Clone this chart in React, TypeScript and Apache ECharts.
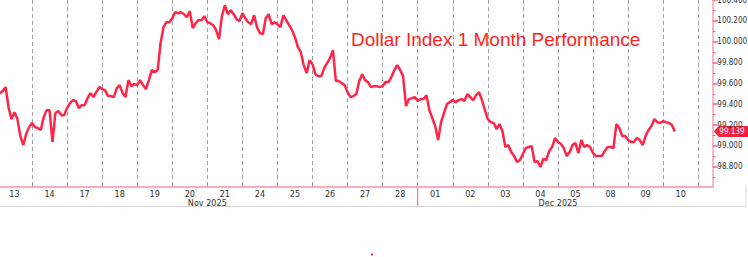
import React, { useEffect, useRef } from 'react';
import * as echarts from 'echarts';

// Trading days shown on the axis (the last one only pads the axis end)
const dayLabels = ['13', '14', '17', '18', '19', '20', '21', '24', '25', '26', '27', '28',
  '01', '02', '03', '04', '05', '08', '09', '10', '11'];
const dayMonths = ['Nov 2025', 'Nov 2025', 'Nov 2025', 'Nov 2025', 'Nov 2025', 'Nov 2025', 'Nov 2025',
  'Nov 2025', 'Nov 2025', 'Nov 2025', 'Nov 2025', 'Nov 2025',
  'Dec 2025', 'Dec 2025', 'Dec 2025', 'Dec 2025', 'Dec 2025', 'Dec 2025', 'Dec 2025', 'Dec 2025', 'Dec 2025'];
const sampleHours = ['00:00', '02:00', '04:00', '06:00', '08:00', '10:00', '12:00', '14:00', '16:00', '18:00', '20:00', '22:00'];

// DXY, 2-hourly samples
const priceNov = [
  99.506, 99.506, 99.526, 99.564, 99.363, 99.257, 99.324, 99.257, 99.094, 99.008, 99.113, 99.180,
  99.219, 99.180, 99.171, 99.152, 99.276, 99.343, 99.343, 99.037, 99.315, 99.334, 99.295, 99.295,
  99.363, 99.410, 99.439, 99.430, 99.363, 99.391, 99.391, 99.458, 99.506, 99.468, 99.516, 99.564,
  99.545, 99.535, 99.478, 99.478, 99.468, 99.554, 99.583, 99.506, 99.468, 99.631, 99.573, 99.593,
  99.583, 99.631, 99.583, 99.545, 99.631, 99.727, 99.708, 99.727, 99.986, 100.139, 100.187, 100.187,
  100.225, 100.283, 100.273, 100.283, 100.264, 100.235, 100.293, 100.130, 100.177, 100.206, 100.206, 100.245,
  100.187, 100.177, 100.158, 100.110, 100.024, 100.245, 100.350, 100.264, 100.302, 100.264, 100.216, 100.197,
  100.273, 100.225, 100.187, 100.168, 100.254, 100.139, 100.082, 100.072, 100.225, 100.264, 100.168, 100.187,
  100.168, 100.139, 100.254, 100.206, 100.158, 100.110, 100.043, 99.947, 99.899, 99.775, 99.698, 99.823,
  99.784, 99.688, 99.669, 99.669, 99.746, 99.794, 99.842, 99.919, 99.622, 99.622, 99.602, 99.583,
  99.516, 99.468, 99.478, 99.497, 99.622, 99.688, 99.631, 99.612, 99.564, 99.573, 99.573, 99.564,
  99.573, 99.612, 99.612, 99.660, 99.727, 99.775, 99.727, 99.669, 99.382, 99.449, 99.458, 99.468,
];
const priceDec = [
  99.430, 99.449, 99.449, 99.487, 99.343, 99.267, 99.190, 99.056, 99.228, 99.315, 99.401, 99.420,
  99.439, 99.420, 99.439, 99.449, 99.430, 99.497, 99.468, 99.439, 99.487, 99.516, 99.439, 99.343,
  99.257, 99.228, 99.219, 99.161, 99.209, 99.142, 98.989, 99.008, 98.941, 98.902, 98.845, 98.864,
  98.922, 98.979, 98.989, 98.998, 98.845, 98.854, 98.797, 98.874, 98.864, 98.950, 98.989, 99.075,
  99.037, 99.017, 98.979, 98.902, 98.941, 99.008, 99.027, 98.931, 99.056, 98.989, 99.008, 98.989,
  98.931, 98.902, 98.902, 98.902, 98.950, 98.989, 98.989, 98.979, 99.209, 99.171, 99.094, 99.094,
  99.056, 99.037, 99.037, 99.075, 99.056, 99.008, 99.094, 99.152, 99.190, 99.257, 99.228, 99.219,
  99.238, 99.228, 99.219, 99.200, 99.139,
];

const yMajorTicks = [98.8, 99.0, 99.2, 99.4, 99.6, 99.8, 100.0, 100.2, 100.4];
const yMinorTicks = [98.7, 98.9, 99.1, 99.3, 99.5, 99.7, 99.9, 100.1, 100.3];

const titleText = 'Dollar Index 1 Month Performance';

const AXIS_FONT = "'Liberation Sans Narrow', 'DejaVu Sans Condensed', 'Liberation Sans', sans-serif";

export default function App() {
  const ref = useRef<HTMLDivElement>(null);

  useEffect(() => {
    if (!ref.current) return;
    const chart = echarts.init(ref.current, null, { renderer: 'svg' });

    const categories: string[] = [];
    dayLabels.forEach((d) => {
      sampleHours.forEach((h) => {
        categories.push(d + ' ' + h);
      });
    });
    const perDay = sampleHours.length;
    const prices = [...priceNov, ...priceDec];
    const lastPrice = prices[prices.length - 1];

    const monthNames = Array.from(new Set(dayMonths));
    const monthCenter: Record<number, string> = {};
    monthNames.forEach((m) => {
      const idx = dayMonths.map((dm, i) => (dm === m ? i : -1)).filter((i) => i >= 0);
      // Dec's padding day is not a displayed day
      const shown = m === 'Dec 2025' ? idx.slice(0, idx.length - 1) : idx;
      const first = shown[0] * perDay;
      const last = (shown[shown.length - 1] + 1) * perDay - 1;
      monthCenter[Math.round((first + last) / 2)] = m;
    });
    const monthBoundary = dayMonths.indexOf('Dec 2025') * perDay;
    const axisEnd = 245;

    chart.setOption({
      animation: false,
      grid: { left: -3.06, right: 35.2, top: 0, bottom: 70.5, containLabel: false, outerBoundsMode: 'none' },
      xAxis: [
        {
          type: 'category',
          data: categories,
          boundaryGap: false,
          max: axisEnd,
          position: 'bottom',
          axisLine: { show: true, lineStyle: { color: '#f8adbb', width: 2 } },
          axisTick: { show: true, inside: true, length: 4, interval: (i: number) => i % perDay === 0, lineStyle: { color: '#9a9a9a' } },
          splitLine: { show: true, interval: (i: number) => i % perDay === 0, lineStyle: { color: '#a0a0a0', type: [4, 3], width: 1 } },
          axisLabel: {
            show: true,
            interval: (i: number) => i % perDay === perDay / 2,
            formatter: (v: string) => v.split(' ')[0],
            color: '#333',
            fontFamily: AXIS_FONT,
            fontSize: 9,
            margin: 2.5,
          },
        },
        {
          type: 'category',
          data: categories,
          boundaryGap: false,
          max: axisEnd,
          position: 'bottom',
          axisLine: { show: false },
          axisTick: { show: false },
          splitLine: { show: false },
          axisLabel: {
            show: true,
            interval: (i: number) => monthCenter[i] !== undefined,
            formatter: (_v: string, i: number) => monthCenter[i] ?? '',
            color: '#333',
            fontFamily: AXIS_FONT,
            fontSize: 9,
            margin: 12,
          },
        },
      ],
      yAxis: [
        {
          type: 'value',
          position: 'right',
          min: 98.61,
          max: 100.4,
          splitLine: { show: false },
          axisLine: { show: true, lineStyle: { color: '#f7a3b3', width: 1.5 } },
          axisTick: { show: true, length: 5, customValues: yMajorTicks, lineStyle: { color: '#f0607c', width: 1.5 } },
          axisLabel: {
            show: true,
            customValues: yMajorTicks,
            formatter: (v: number) => v.toFixed(3),
            color: '#333',
            fontFamily: AXIS_FONT,
            fontSize: 8,
            margin: 4.5,
          },
        },
        {
          type: 'value',
          position: 'right',
          min: 98.61,
          max: 100.4,
          splitLine: { show: false },
          axisLine: { show: false },
          axisTick: { show: true, length: 2.5, customValues: yMinorTicks, lineStyle: { color: '#f0607c', width: 1 } },
          axisLabel: { show: false },
        },
      ],
      series: [
        {
          type: 'line',
          data: prices,
          xAxisIndex: 0,
          yAxisIndex: 0,
          showSymbol: false,
          symbol: 'none',
          lineStyle: { color: '#ff2547', width: 2.5 },
          clip: true,
        },
      ],
    });

    const yLast = chart.convertToPixel({ yAxisIndex: 0 }, lastPrice) as number;
    const xRight = chart.convertToPixel({ xAxisIndex: 0 }, axisEnd) as number;
    const xMonth = chart.convertToPixel({ xAxisIndex: 0 }, monthBoundary) as number;
    const yBottom = chart.convertToPixel({ yAxisIndex: 0 }, 98.61) as number;

    chart.setOption({
      graphic: [
        {
          type: 'text',
          x: 351,
          y: 39,
          style: {
            text: titleText,
            fill: '#ff1f1f',
            fontSize: 19,
            fontFamily: "'Liberation Sans', sans-serif",
            verticalAlign: 'middle',
            align: 'left',
          },
        },
        {
          type: 'polygon',
          shape: {
            points: [
              [xRight + 1, yLast],
              [xRight + 6, yLast - 5.5],
              [748, yLast - 5.5],
              [748, yLast + 5.5],
              [xRight + 6, yLast + 5.5],
            ],
          },
          style: { fill: '#f0223f' },
        },
        {
          type: 'text',
          x: xRight + 6.5,
          y: yLast,
          style: {
            text: lastPrice.toFixed(3),
            fill: '#ffffff',
            fontSize: 8,
            fontFamily: AXIS_FONT,
            verticalAlign: 'middle',
            align: 'left',
          },
        },
        {
          type: 'line',
          shape: { x1: xMonth, y1: yBottom, x2: xMonth, y2: yBottom + 21 },
          style: { stroke: '#f0607c', lineWidth: 1 },
        },
        {
          type: 'line',
          shape: { x1: 0, y1: yBottom + 20, x2: 746, y2: yBottom + 20 },
          style: { stroke: '#d6d6d6', lineWidth: 1 },
        },
        {
          type: 'line',
          shape: { x1: 746, y1: yBottom, x2: 746, y2: yBottom + 20 },
          style: { stroke: '#d6d6d6', lineWidth: 1 },
        },
        {
          type: 'circle',
          shape: { cx: 372, cy: 254.5, r: 1.2 },
          style: { fill: '#ff2547' },
        },
      ],
    });

    return () => chart.dispose();
  }, []);

  return (
    <div
      ref={ref}
      style={{ position: 'fixed', left: 0, top: 0, width: 748, height: 257, background: '#ffffff' }}
    />
  );
}
